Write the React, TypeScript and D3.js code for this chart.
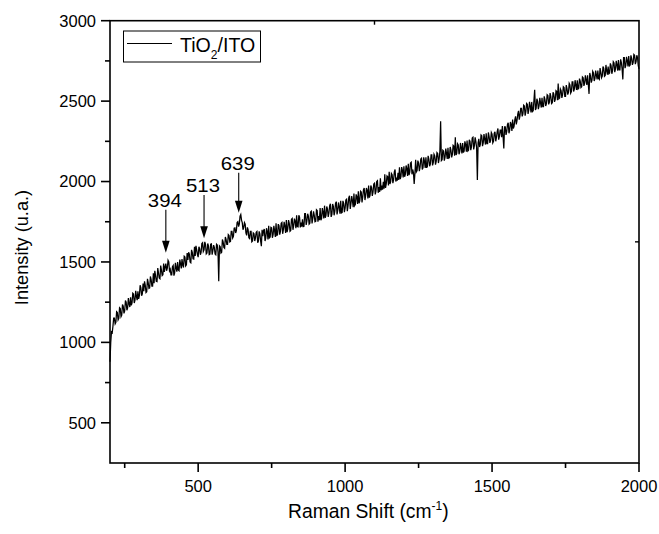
import React from "react";
import * as d3 from "d3";

// Raman spectrum of TiO2/ITO
// intensity: samples at 200, 205, ... 2000 cm-1
const shiftStart = 200;
const shiftStep = 5;
const intensity: number[] = [
  880, 1065, 1100, 1150, 1125, 1185, 1150, 1210, 1170, 1225, 1195, 1250, 1215, 1240, 1280, 1245, 1300, 1262, 1285, 1318,
  1290, 1340, 1302, 1318, 1355, 1315, 1372, 1338, 1390, 1350, 1368, 1415, 1378, 1432, 1395, 1450, 1420, 1438, 1490, 1462,
  1500, 1455, 1420, 1478, 1432, 1462, 1500, 1445, 1488, 1518, 1465, 1530, 1482, 1512, 1548, 1495, 1560, 1518, 1538, 1575,
  1530, 1582, 1560, 1620, 1575, 1610, 1555, 1600, 1548, 1612, 1570, 1590, 1545, 1605, 1380, 1595, 1560, 1625, 1585, 1640,
  1610, 1665, 1628, 1690, 1660, 1712, 1695, 1750, 1735, 1795, 1745, 1715, 1735, 1665, 1700, 1645, 1690, 1630, 1675, 1650,
  1690, 1630, 1675, 1598, 1660, 1705, 1648, 1690, 1725, 1655, 1712, 1670, 1695, 1740, 1668, 1725, 1690, 1745, 1700, 1722,
  1760, 1705, 1740, 1695, 1770, 1725, 1752, 1790, 1718, 1778, 1745, 1765, 1722, 1800, 1755, 1785, 1740, 1815, 1770, 1790,
  1752, 1820, 1785, 1835, 1770, 1810, 1850, 1790, 1828, 1805, 1862, 1795, 1845, 1815, 1875, 1820, 1842, 1880, 1808, 1865,
  1835, 1890, 1850, 1912, 1865, 1880, 1925, 1858, 1905, 1940, 1880, 1935, 1905, 1960, 1912, 1945, 1975, 1915, 1962, 1935,
  1990, 1940, 2005, 1965, 2020, 1975, 1998, 2045, 1985, 2030, 2060, 2000, 2042, 2012, 2075, 2025, 2055, 2088, 2030, 2070,
  2095, 2045, 2080, 2110, 2058, 2120, 2075, 1985, 2135, 2068, 2115, 2090, 2145, 2085, 2125, 2150, 2095, 2140, 2108, 2165,
  2118, 2160, 2125, 2175, 2140, 2375, 2135, 2190, 2150, 2175, 2210, 2148, 2195, 2168, 2220, 2275, 2175, 2228, 2185, 2210,
  2240, 2190, 2230, 2255, 2195, 2250, 2215, 2275, 2225, 2248, 2010, 2265, 2230, 2285, 2240, 2262, 2300, 2235, 2280, 2255,
  2295, 2250, 2310, 2275, 2330, 2280, 2320, 2345, 2205, 2340, 2310, 2365, 2320, 2355, 2385, 2345, 2405, 2380, 2440, 2410,
  2455, 2420, 2470, 2435, 2480, 2445, 2468, 2495, 2440, 2570, 2455, 2500, 2470, 2488, 2520, 2465, 2510, 2485, 2535, 2492,
  2530, 2490, 2545, 2510, 2560, 2610, 2520, 2565, 2540, 2585, 2530, 2578, 2555, 2600, 2560, 2620, 2575, 2598, 2630, 2580,
  2625, 2590, 2645, 2610, 2632, 2660, 2545, 2655, 2630, 2675, 2640, 2662, 2690, 2635, 2680, 2655, 2705, 2660, 2690, 2715,
  2675, 2720, 2690, 2738, 2700, 2725, 2755, 2695, 2740, 2635, 2770, 2720, 2752, 2780, 2725, 2765, 2740, 2785, 2745, 2770,
  2700,
];
// intensityMid: samples at 202.5, 207.5, ... 1997.5 cm-1
const intensityMid: number[] = [
  1000, 1060, 1150, 1115, 1190, 1140, 1215, 1160, 1235, 1180, 1260, 1200, 1275, 1220, 1230, 1305, 1245, 1320, 1262, 1270,
  1355, 1290, 1365, 1380, 1310, 1395, 1335, 1410, 1350, 1430, 1445, 1380, 1462, 1400, 1478, 1415, 1490, 1470, 1445, 1510,
  1445, 1420, 1470, 1415, 1495, 1440, 1450, 1515, 1460, 1480, 1535, 1475, 1555, 1560, 1500, 1575, 1520, 1595, 1600, 1545,
  1595, 1545, 1615, 1565, 1625, 1550, 1615, 1545, 1610, 1545, 1605, 1550, 1610, 1560, 1600, 1555, 1640, 1590, 1655, 1610,
  1670, 1625, 1690, 1650, 1710, 1680, 1745, 1720, 1785, 1760, 1700, 1745, 1680, 1715, 1650, 1690, 1625, 1680, 1630, 1685,
  1620, 1690, 1630, 1700, 1695, 1630, 1710, 1640, 1650, 1715, 1650, 1725, 1655, 1665, 1735, 1670, 1740, 1675, 1750, 1680,
  1685, 1760, 1690, 1765, 1700, 1770, 1710, 1720, 1790, 1715, 1720, 1720, 1800, 1730, 1800, 1735, 1810, 1740, 1815, 1750,
  1825, 1750, 1760, 1760, 1835, 1770, 1775, 1845, 1780, 1850, 1780, 1860, 1790, 1865, 1795, 1870, 1800, 1805, 1880, 1810,
  1885, 1815, 1900, 1830, 1910, 1840, 1850, 1920, 1860, 1865, 1940, 1870, 1950, 1885, 1960, 1895, 1900, 1975, 1910, 1985,
  1920, 2000, 1930, 1935, 1945, 1950, 1955, 1960, 2035, 1975, 1985, 2050, 1990, 2060, 2000, 2005, 2010, 2015, 2090, 2025,
  2030, 2100, 2035, 2040, 2115, 2045, 2055, 2050, 2060, 2130, 2065, 2140, 2075, 2150, 2085, 2085, 2160, 2095, 2165, 2100,
  2170, 2105, 2180, 2115, 2190, 2130, 2195, 2130, 2205, 2140, 2145, 2215, 2150, 2225, 2160, 2165, 2235, 2170, 2240, 2175,
  2180, 2250, 2185, 2190, 2260, 2195, 2270, 2200, 2275, 2210, 2240, 2215, 2290, 2220, 2295, 2230, 2235, 2305, 2240, 2305,
  2240, 2300, 2250, 2310, 2260, 2320, 2275, 2280, 2340, 2290, 2355, 2300, 2370, 2315, 2330, 2385, 2355, 2420, 2385, 2455,
  2405, 2475, 2410, 2485, 2420, 2495, 2430, 2435, 2505, 2445, 2515, 2450, 2520, 2460, 2465, 2530, 2470, 2540, 2480, 2550,
  2485, 2555, 2495, 2565, 2505, 2515, 2575, 2520, 2590, 2530, 2600, 2540, 2610, 2550, 2620, 2560, 2630, 2570, 2575, 2640,
  2585, 2650, 2595, 2660, 2600, 2605, 2675, 2615, 2685, 2625, 2690, 2635, 2640, 2705, 2645, 2715, 2655, 2725, 2665, 2670,
  2735, 2670, 2745, 2680, 2750, 2690, 2695, 2760, 2700, 2770, 2705, 2775, 2715, 2720, 2785, 2725, 2790, 2730, 2785, 2720,
];

type Pt = [number, number];
const spectrum: Pt[] = intensity.flatMap((v, i): Pt[] =>
  i < intensityMid.length
    ? [
        [shiftStart + i * shiftStep, v],
        [shiftStart + i * shiftStep + shiftStep / 2, intensityMid[i]],
      ]
    : [[shiftStart + i * shiftStep, v]]
);

const xDomain = [200, 2000];
const yDomain = [250, 3000];
const xTicks = [500, 1000, 1500, 2000];
const xMinorTicks = [250, 750, 1250, 1750];
const yTicks = [500, 1000, 1500, 2000, 2500, 3000];
const yMinorTicks = [750, 1250, 1750, 2250, 2750];

// peak annotations
const peakLabels = ["394", "513", "639"];
const arrowShift = [390, 520, 638];
const arrowTop = [1824, 1917, 2054];
const arrowTip = [1557, 1647, 1806];

const seriesName = "TiO";

const FONT = "'Liberation Sans', Arial, sans-serif";

export default function App() {
  const left = 110;
  const right = 639;
  const top = 20.7;
  const bottom = 463;

  const x = d3.scaleLinear().domain(xDomain).range([left, right]);
  const y = d3.scaleLinear().domain(yDomain).range([bottom, top]);

  const line = d3
    .line<Pt>()
    .x((d) => x(d[0]))
    .y((d) => y(d[1]));

  const pathD = line(spectrum) || "";

  return (
    <svg
      width={659}
      height={534}
      style={{ position: "absolute", left: 0, top: 0, background: "#fff" }}
      fontFamily={FONT}
    >
      <rect x={0} y={0} width={659} height={534} fill="#fff" />
      {/* spectrum */}
      <path d={pathD} fill="none" stroke="#000" strokeWidth={1.25} strokeLinejoin="miter" />

      {/* frame */}
      <rect x={left} y={top} width={right - left} height={bottom - top} fill="none" stroke="#000" strokeWidth={1.6} />

      {/* x ticks */}
      {xTicks.map((t) => (
        <g key={"xt" + t}>
          <line x1={x(t)} x2={x(t)} y1={bottom} y2={bottom + 9} stroke="#000" strokeWidth={1.6} />
          <text x={x(t)} y={491.5} fontSize={16.5} textAnchor="middle" fill="#000">
            {t}
          </text>
        </g>
      ))}
      {xMinorTicks.map((t) => (
        <line key={"xm" + t} x1={x(t)} x2={x(t)} y1={bottom} y2={bottom + 5} stroke="#000" strokeWidth={1.6} />
      ))}

      {/* y ticks */}
      {yTicks.map((t) => (
        <g key={"yt" + t}>
          <line x1={left - 9} x2={left} y1={y(t)} y2={y(t)} stroke="#000" strokeWidth={1.6} />
          <text x={96} y={y(t)} dy="0.36em" fontSize={16.5} textAnchor="end" fill="#000">
            {t}
          </text>
        </g>
      ))}
      {yMinorTicks.map((t) => (
        <line key={"ym" + t} x1={left - 5} x2={left} y1={y(t)} y2={y(t)} stroke="#000" strokeWidth={1.6} />
      ))}

      {/* stray mirrored ticks on top/right axes */}
      <line x1={x(1100)} x2={x(1100)} y1={top} y2={top + 4} stroke="#000" strokeWidth={1.4} />
      <line x1={right - 4} x2={right} y1={y(1625)} y2={y(1625)} stroke="#000" strokeWidth={1.4} />

      {/* axis titles */}
      <text x={288} y={518} fontSize={19.3} fill="#000">
        Raman Shift (cm
        <tspan fontSize={12} dy={-8}>-1</tspan>
        <tspan dy={8}>)</tspan>
      </text>
      <text
        transform={`translate(27.5, ${247.5}) rotate(-90)`}
        fontSize={18.2}
        textAnchor="middle"
        fill="#000"
      >
        Intensity (u.a.)
      </text>

      {/* legend */}
      <rect x={123.5} y={31} width={137} height={31} fill="#fff" stroke="#000" strokeWidth={1} />
      <line x1={127} x2={172} y1={43.5} y2={43.5} stroke="#000" strokeWidth={1} />
      <text x={180} y={51.5} fontSize={19.6} fill="#000">
        {seriesName}
        <tspan fontSize={12} dy={7}>2</tspan>
        <tspan dy={-7}>/ITO</tspan>
      </text>

      {/* peak arrows */}
      {peakLabels.map((lab, i) => {
        const ax = x(arrowShift[i]);
        const y0 = y(arrowTop[i]);
        const y1 = y(arrowTip[i]);
        const headLen = 12;
        const headHalf = 3.8;
        return (
          <g key={"pk" + lab}>
            <line x1={ax} x2={ax} y1={y0} y2={y1 - headLen + 1} stroke="#000" strokeWidth={1.1} />
            <path
              d={`M${ax - headHalf},${y1 - headLen} L${ax + headHalf},${y1 - headLen} L${ax},${y1} Z`}
              fill="#000"
            />
            <text
              x={ax - 1}
              y={y0 - 3}
              fontSize={18.5}
              textAnchor="middle"
              textLength={34}
              lengthAdjust="spacingAndGlyphs"
              fill="#000"
            >
              {lab}
            </text>
          </g>
        );
      })}
    </svg>
  );
}
